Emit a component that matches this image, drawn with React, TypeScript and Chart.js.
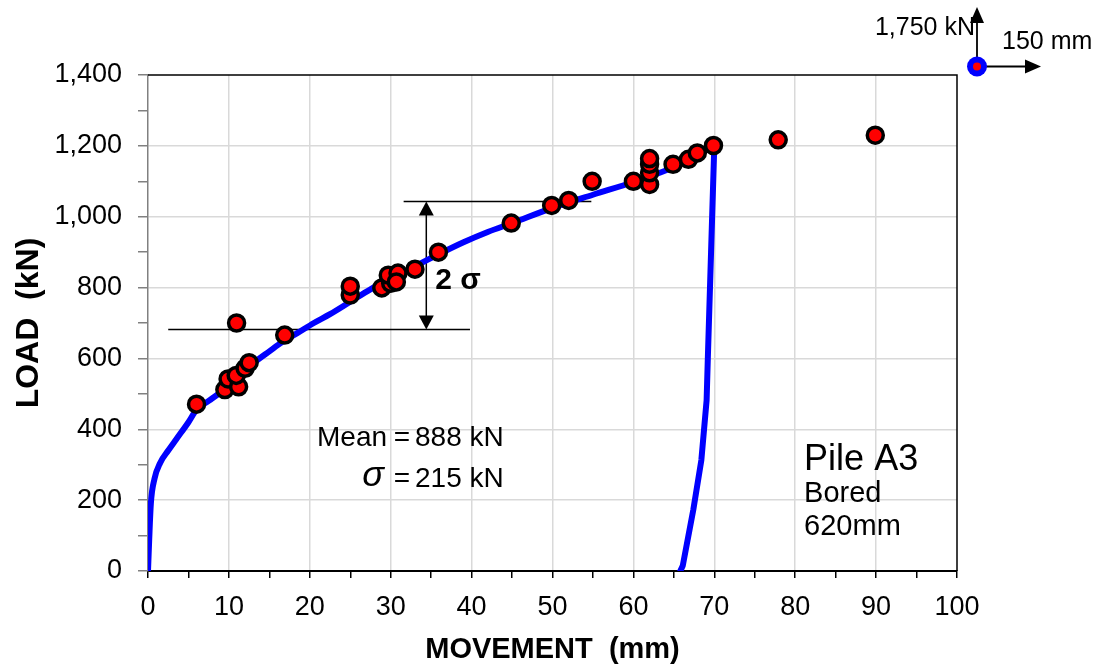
import React, { useEffect, useRef } from 'react';
import { Chart, registerables } from 'chart.js';

Chart.register(...registerables);

const FONT = '"Liberation Sans", Arial, Helvetica, sans-serif';

// Load test readings: pile head movement (mm) and applied load (kN)
const testMovement = [
  6.0, 9.5, 9.9, 11.2, 10.9, 12.0, 12.5, 10.95, 16.9,
  25.0, 25.0, 28.9, 30.0, 29.7, 30.9, 30.7, 33.0, 35.9,
  44.9, 49.9, 52.0, 54.9, 60.0, 62.0, 62.0, 62.0, 62.0,
  64.9, 66.8, 67.9, 69.9, 77.9, 89.9,
];
const testLoad = [
  471, 512, 542, 520, 552, 572, 588, 700, 666,
  779, 804, 799, 812, 835, 841, 816, 852, 900,
  982, 1032, 1046, 1100, 1100, 1091, 1124, 1148, 1164,
  1148, 1162, 1180, 1201, 1217, 1230,
];

// Loading branch of the load-movement curve
const loadingMovement = [
  0, 0.15, 0.35, 0.8, 1.5, 2.5, 3.5, 5, 6, 7.5, 9, 10.5, 12, 13.5, 15, 16.5,
  18.5, 20.5, 22.5, 25, 27.5, 30, 33, 36, 39, 42, 45, 50, 55, 60, 65, 70,
];
const loadingLoad = [
  0, 90, 190, 260, 305, 340, 372, 420, 455, 480, 505, 535, 565, 595, 620, 645,
  672, 700, 725, 760, 795, 825, 860, 895, 928, 957, 982, 1025, 1062, 1098, 1140, 1200,
];

// Unloading branch
const unloadingMovement = [70, 69.6, 69.2, 69.05, 68.4, 67.4, 66.1, 65.8];
const unloadingLoad = [1200, 900, 600, 482, 313, 172, 15, 0];

// Capacity statistics and the band marked on the plot
const meanLoad = 888;
const sigmaLoad = 215;
const bandLowLoad = 682;
const bandHighLoad = 1043;
const bandLowSpan = [2.5, 39.8];
const bandHighSpan = [31.6, 54.8];
const bandArrowMovement = 34.4;

// Text anchors (movement mm, load kN)
const statsEqualsAt = [31.4, 376, 259];
const bandLabelAt = [35.5, 818];
const pileLabelAt = [81.1, 313, 217, 124];
const pileLines = ['Pile A3', 'Bored', '620mm'];

// Scale indicator in the corner
const scaleLoadText = '1,750 kN';
const scaleMoveText = '150 mm';

const toXY = (xs: number[], ys: number[]) => xs.map((x, i) => ({ x, y: ys[i] }));

function arrowHead(ctx: CanvasRenderingContext2D, x: number, y: number, dir: 'up' | 'down' | 'right', len = 14, half = 7) {
  ctx.beginPath();
  if (dir === 'up') {
    ctx.moveTo(x, y);
    ctx.lineTo(x - half, y + len);
    ctx.lineTo(x + half, y + len);
  } else if (dir === 'down') {
    ctx.moveTo(x, y);
    ctx.lineTo(x - half, y - len);
    ctx.lineTo(x + half, y - len);
  } else {
    ctx.moveTo(x, y);
    ctx.lineTo(x - len, y - half);
    ctx.lineTo(x - len, y + half);
  }
  ctx.closePath();
  ctx.fill();
}

const decorations = {
  id: 'decorations',
  afterDraw(chart: any) {
    const { ctx, chartArea: a, scales } = chart;
    const x = scales.x;
    const y = scales.y;
    ctx.save();

    // frame on top and right
    ctx.strokeStyle = '#000';
    ctx.lineWidth = 1.5;
    ctx.beginPath();
    ctx.moveTo(a.left, a.top);
    ctx.lineTo(a.right, a.top);
    ctx.lineTo(a.right, a.bottom);
    ctx.stroke();

    // arrowheads of the 2σ dimension line
    ctx.fillStyle = '#000';
    const ax = x.getPixelForValue(bandArrowMovement);
    arrowHead(ctx, ax, y.getPixelForValue(bandHighLoad), 'up', 14, 7.5);
    arrowHead(ctx, ax, y.getPixelForValue(bandLowLoad), 'down', 14, 7.5);

    ctx.textBaseline = 'middle';
    ctx.fillStyle = '#000';

    // "2 σ"
    ctx.font = `bold 30px ${FONT}`;
    ctx.textAlign = 'left';
    ctx.fillText('2 σ', x.getPixelForValue(bandLabelAt[0]), y.getPixelForValue(bandLabelAt[1]));

    // Mean and σ
    const eqX = x.getPixelForValue(statsEqualsAt[0]);
    const meanY = y.getPixelForValue(statsEqualsAt[1]);
    const sigY = y.getPixelForValue(statsEqualsAt[2]);
    ctx.font = `28px ${FONT}`;
    ctx.textAlign = 'right';
    ctx.fillText('Mean', eqX - 15, meanY);
    ctx.textAlign = 'center';
    ctx.fillText('=', eqX, meanY);
    ctx.fillText('=', eqX, sigY);
    ctx.textAlign = 'left';
    ctx.fillText(`${meanLoad} kN`, eqX + 13, meanY);
    ctx.fillText(`${sigmaLoad} kN`, eqX + 13, sigY);
    ctx.font = `italic 36px ${FONT}`;
    ctx.textAlign = 'right';
    ctx.fillText('σ', eqX - 18, sigY - 3);

    // pile description
    const px = x.getPixelForValue(pileLabelAt[0]);
    ctx.textAlign = 'left';
    ctx.font = `36px ${FONT}`;
    ctx.fillText(pileLines[0], px, y.getPixelForValue(pileLabelAt[1]));
    ctx.font = `29px ${FONT}`;
    ctx.fillText(pileLines[1], px, y.getPixelForValue(pileLabelAt[2]));
    ctx.fillText(pileLines[2], px, y.getPixelForValue(pileLabelAt[3]));

    // scale indicator beyond the plot corner
    const cx = a.right + 20;
    const cy = a.top - 8.5;
    ctx.strokeStyle = '#000';
    ctx.lineWidth = 1.8;
    ctx.beginPath();
    ctx.moveTo(cx, cy);
    ctx.lineTo(cx, a.top - 60);
    ctx.moveTo(cx, cy);
    ctx.lineTo(cx + 55, cy);
    ctx.stroke();
    ctx.fillStyle = '#000';
    arrowHead(ctx, cx, a.top - 68, 'up', 16, 7);
    arrowHead(ctx, cx + 64, cy, 'right', 16, 7);
    ctx.fillStyle = '#0000ff';
    ctx.beginPath();
    ctx.arc(cx, cy, 10, 0, Math.PI * 2);
    ctx.fill();
    ctx.fillStyle = '#ff0000';
    ctx.beginPath();
    ctx.arc(cx, cy, 4, 0, Math.PI * 2);
    ctx.fill();
    ctx.fillStyle = '#000';
    ctx.font = `25px ${FONT}`;
    ctx.textAlign = 'right';
    ctx.fillText(scaleLoadText, cx - 2, a.top - 47);
    ctx.textAlign = 'left';
    ctx.fillText(scaleMoveText, cx + 25, a.top - 33);

    ctx.restore();
  },
};

export default function App() {
  const canvasRef = useRef<HTMLCanvasElement | null>(null);

  useEffect(() => {
    const canvas = canvasRef.current;
    if (!canvas) return;

    const chart = new Chart(canvas, {
      type: 'scatter',
      data: {
        datasets: [
          {
            data: toXY(testMovement, testLoad),
            backgroundColor: '#ff0000',
            borderColor: '#000000',
            borderWidth: 3.5,
            pointRadius: 8,
            pointHoverRadius: 8,
            showLine: false,
          },
          {
            data: toXY(loadingMovement, loadingLoad),
            showLine: true,
            borderColor: '#0000ff',
            borderWidth: 6,
            pointRadius: 0,
            cubicInterpolationMode: 'monotone',
            borderCapStyle: 'round',
            borderJoinStyle: 'round',
          },
          {
            data: toXY(unloadingMovement, unloadingLoad),
            showLine: true,
            borderColor: '#0000ff',
            borderWidth: 6,
            pointRadius: 0,
            tension: 0,
            borderCapStyle: 'round',
            borderJoinStyle: 'round',
          },
          {
            data: toXY(bandLowSpan, [bandLowLoad, bandLowLoad]),
            showLine: true,
            borderColor: '#000000',
            borderWidth: 1.5,
            pointRadius: 0,
          },
          {
            data: toXY(bandHighSpan, [bandHighLoad, bandHighLoad]),
            showLine: true,
            borderColor: '#000000',
            borderWidth: 1.5,
            pointRadius: 0,
          },
          {
            data: toXY([bandArrowMovement, bandArrowMovement], [bandLowLoad + 30, bandHighLoad - 30]),
            showLine: true,
            borderColor: '#000000',
            borderWidth: 1.5,
            pointRadius: 0,
          },
        ],
      },
      options: {
        responsive: false,
        animation: false,
        layout: { padding: { top: 75, right: 145, bottom: 0, left: 0 } },
        plugins: {
          legend: { display: false },
          tooltip: { enabled: false },
        },
        scales: {
          x: {
            type: 'linear',
            position: 'bottom',
            min: 0,
            max: 100,
            ticks: {
              stepSize: 5,
              autoSkip: false,
              maxRotation: 0,
              padding: 13,
              color: '#000',
              font: { family: FONT, size: 27 },
              callback: (v: any) => (Number(v) % 10 === 0 ? String(v) : ''),
            },
            grid: {
              color: (c: any) => {
                const v = c.tick ? c.tick.value : 0;
                return v % 10 === 0 && v > 0 && v < 100 ? '#d9d9d9' : 'rgba(0,0,0,0)';
              },
              lineWidth: 1.5,
              tickColor: '#000',
              tickLength: 7,
            },
            border: { color: '#000', width: 2 },
            title: {
              display: true,
              text: 'MOVEMENT  (mm)',
              color: '#000',
              font: { family: FONT, size: 29, weight: 'bold' },
              padding: { top: 0, bottom: 4 },
            },
            afterFit: (s: any) => {
              s.height = 100;
            },
          },
          y: {
            type: 'linear',
            min: 0,
            max: 1400,
            ticks: {
              stepSize: 100,
              autoSkip: false,
              padding: 16,
              color: '#000',
              font: { family: FONT, size: 27 },
              callback: (v: any) => (Number(v) % 200 === 0 ? Number(v).toLocaleString('en-US') : ''),
            },
            grid: {
              color: (c: any) => {
                const v = c.tick ? c.tick.value : 0;
                return v % 200 === 0 && v > 0 && v < 1400 ? '#d9d9d9' : 'rgba(0,0,0,0)';
              },
              lineWidth: 1.5,
              tickColor: '#808080',
              tickLength: 10,
            },
            border: { color: '#808080', width: 1.5 },
            title: {
              display: true,
              text: 'LOAD  (kN)',
              color: '#000',
              font: { family: FONT, size: 32, weight: 'bold' },
              padding: { top: 10, bottom: 0 },
            },
            afterFit: (s: any) => {
              s.width = 148;
            },
          },
        },
      },
      plugins: [decorations],
    } as any);

    return () => chart.destroy();
  }, []);

  return (
    <div style={{ position: 'absolute', left: 0, top: 0, width: 1102, height: 671, background: '#fff' }}>
      <canvas ref={canvasRef} width={1102} height={671} style={{ display: 'block' }} />
    </div>
  );
}
